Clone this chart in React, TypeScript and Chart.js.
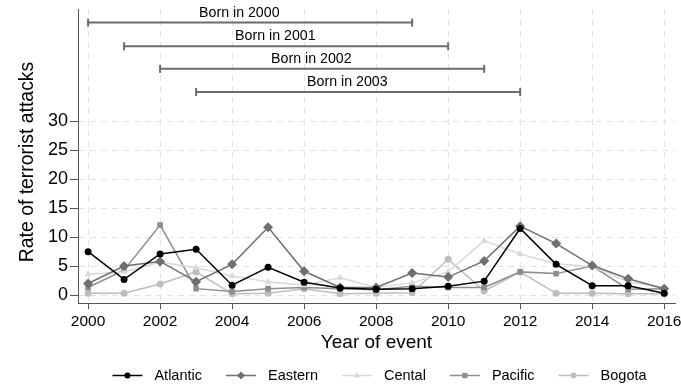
import React, { useEffect, useRef } from "react";
import { Chart, registerables } from "chart.js";

Chart.register(...registerables);

// ---- data ----
const years = [2000, 2001, 2002, 2003, 2004, 2005, 2006, 2007, 2008, 2009, 2010, 2011, 2012, 2013, 2014, 2015, 2016];
const atlantic = [7.5, 2.7, 7.1, 7.9, 1.7, 4.8, 2.2, 1.2, 1.0, 1.1, 1.5, 2.4, 11.5, 5.3, 1.6, 1.6, 0.3];
const eastern = [2.0, 5.0, 5.8, 2.3, 5.3, 11.7, 4.1, 1.3, 1.3, 3.8, 3.1, 5.9, 11.9, 8.9, 5.1, 2.8, 1.1];
const cental = [3.6, 4.0, 5.7, 4.7, 3.3, 2.3, 1.7, 3.0, 1.3, 2.1, 4.0, 9.4, 7.1, 5.4, 4.9, 2.3, 1.3];
const pacific = [1.3, 4.3, 12.1, 1.1, 0.6, 1.1, 1.3, 1.1, 0.9, 1.5, 1.3, 1.3, 4.0, 3.7, 5.0, 1.0, 1.1];
const bogota = [0.3, 0.3, 1.9, 4.0, 0.2, 0.3, 1.1, 0.2, 0.3, 0.4, 6.2, 0.7, 4.0, 0.3, 0.3, 0.2, 0.2];

const cohortLabels = ["Born in 2000", "Born in 2001", "Born in 2002", "Born in 2003"];
const cohortStart = [2000, 2001, 2002, 2003];
const cohortEnd = [2009, 2010, 2011, 2012];
const cohortLevel = [47.1, 43, 39.1, 35.1];

const xTicks = [2000, 2002, 2004, 2006, 2008, 2010, 2012, 2014, 2016];
const yTicks = [0, 5, 10, 15, 20, 25, 30];

const xTitle = "Year of event";
const yTitle = "Rate of terrorist attacks";

const FONT = "'Liberation Sans', Arial, Helvetica, sans-serif";

type SeriesDef = { label: string; values: number[]; color: string; style: string; radius: number; legendRadius: number };

const seriesDefs: SeriesDef[] = [
  { label: "Atlantic", values: atlantic, color: "#000000", style: "circle", radius: 3.5, legendRadius: 3 },
  { label: "Eastern", values: eastern, color: "#6f6f6f", style: "rectRot", radius: 5, legendRadius: 4 },
  { label: "Cental", values: cental, color: "#d9d9d9", style: "triangle", radius: 4, legendRadius: 3.5 },
  { label: "Pacific", values: pacific, color: "#8e8e8e", style: "rect", radius: 4, legendRadius: 3.5 },
  { label: "Bogota", values: bogota, color: "#bdbdbd", style: "circle", radius: 3.5, legendRadius: 3 },
];

function drawMarker(ctx: CanvasRenderingContext2D, style: string, x: number, y: number, r: number, color: string) {
  ctx.save();
  ctx.fillStyle = color;
  ctx.beginPath();
  if (style === "circle") {
    ctx.arc(x, y, r, 0, Math.PI * 2);
  } else if (style === "rectRot") {
    ctx.moveTo(x, y - r);
    ctx.lineTo(x + r, y);
    ctx.lineTo(x, y + r);
    ctx.lineTo(x - r, y);
    ctx.closePath();
  } else if (style === "triangle") {
    ctx.moveTo(x, y - r);
    ctx.lineTo(x + r * 0.95, y + r * 0.6);
    ctx.lineTo(x - r * 0.95, y + r * 0.6);
    ctx.closePath();
  } else {
    const h = r * 0.75;
    ctx.rect(x - h, y - h, 2 * h, 2 * h);
  }
  ctx.fill();
  ctx.restore();
}

export default function App() {
  const ref = useRef<HTMLCanvasElement>(null);

  useEffect(() => {
    document.body.style.margin = "0";
    const canvas = ref.current;
    if (!canvas) return;

    const intervalSets = cohortLabels.map((lab, i) => ({
      type: "line" as const,
      label: lab,
      data: [
        { x: cohortStart[i], y: cohortLevel[i] },
        { x: cohortEnd[i], y: cohortLevel[i] },
      ],
      borderColor: "#6b6b6b",
      borderWidth: 2,
      pointStyle: "line",
      pointRotation: 90,
      pointRadius: 4,
      pointBorderWidth: 2,
      pointBorderColor: "#6b6b6b",
      backgroundColor: "#6b6b6b",
      fill: false,
    }));

    const seriesSets = seriesDefs.map((s) => ({
      type: "line" as const,
      label: s.label,
      data: s.values.map((v, i) => ({ x: years[i], y: v })),
      borderColor: s.color,
      backgroundColor: s.color,
      pointBackgroundColor: s.color,
      pointBorderColor: s.color,
      borderWidth: 1.5,
      pointStyle: s.style,
      pointRadius: s.radius,
      pointBorderWidth: 0,
      tension: 0,
      fill: false,
    }));

    const overlayPlugin = {
      id: "overlay",
      afterDatasetsDraw(chart: any) {
        const ctx: CanvasRenderingContext2D = chart.ctx;
        const xs = chart.scales.x;
        const ys = chart.scales.y;
        ctx.save();
        ctx.fillStyle = "#000";
        ctx.font = `14.2px ${FONT}`;
        ctx.textAlign = "center";
        ctx.textBaseline = "middle";
        cohortLabels.forEach((lab, i) => {
          const mid = (cohortStart[i] + cohortEnd[i]) / 2 - 0.3;
          const px = xs.getPixelForValue(mid);
          const py = ys.getPixelForValue(cohortLevel[i]) - 10;
          ctx.fillText(lab, px, py);
        });
        ctx.restore();
      },
      afterDraw(chart: any) {
        const ctx: CanvasRenderingContext2D = chart.ctx;
        const area = chart.chartArea;
        ctx.save();
        // y axis title
        ctx.fillStyle = "#000";
        ctx.font = `19.4px ${FONT}`;
        ctx.textAlign = "center";
        ctx.textBaseline = "middle";
        ctx.translate(28, (area.top + area.bottom) / 2 + 6);
        ctx.rotate(-Math.PI / 2);
        ctx.fillText(yTitle, 0, 0);
        ctx.restore();

        ctx.save();
        ctx.font = `14.5px ${FONT}`;
        ctx.textBaseline = "middle";
        ctx.textAlign = "left";
        const lineW = 30;
        const textGap = 12;
        const itemGap = 24;
        const widths = seriesDefs.map((s) => ctx.measureText(s.label).width);
        const total =
          widths.reduce((a, w) => a + lineW + textGap + w, 0) + itemGap * (seriesDefs.length - 1);
        let x = (area.left + area.right) / 2 + 3 - total / 2;
        const y = 375.5;
        seriesDefs.forEach((s, i) => {
          ctx.strokeStyle = s.color;
          ctx.lineWidth = 1.5;
          ctx.beginPath();
          ctx.moveTo(x, y);
          ctx.lineTo(x + lineW, y);
          ctx.stroke();
          drawMarker(ctx, s.style, x + lineW / 2, y, s.legendRadius, s.color);
          ctx.fillStyle = "#000";
          ctx.fillText(s.label, x + lineW + textGap, y + 0.5);
          x += lineW + textGap + widths[i] + itemGap;
        });
        ctx.restore();
      },
    };

    const chart = new Chart(canvas, {
      type: "line",
      data: { datasets: [...seriesSets, ...intervalSets] as any },
      options: {
        responsive: true,
        maintainAspectRatio: false,
        animation: false,
        events: [],
        layout: { padding: { top: 9, right: 5, left: 0, bottom: 0 } },
        plugins: {
          legend: { display: false },
          tooltip: { enabled: false },
          title: { display: false },
        },
        scales: {
          x: {
            type: "linear",
            min: 1999.72,
            max: 2016.3,
            afterBuildTicks: (scale: any) => {
              scale.ticks = xTicks.map((v) => ({ value: v }));
            },
            afterFit: (scale: any) => {
              scale.height = 86;
              scale.paddingLeft = 0;
              scale.paddingRight = 0;
            },
            grid: {
              color: "#e3e3e3",
              lineWidth: 1,
              tickColor: "#555",
              tickLength: 6,
              tickWidth: 1,
            },
            border: { color: "#555", width: 1, dash: [6, 5] },
            ticks: {
              color: "#000",
              font: { family: FONT, size: 15.5 },
              padding: 3,
              maxRotation: 0,
              autoSkip: false,
              callback: (v: any) => String(v),
            },
            title: {
              display: true,
              text: xTitle,
              color: "#000",
              font: { family: FONT, size: 19 },
              padding: { top: 0, bottom: 35 },
            },
          },
          y: {
            type: "linear",
            min: -1.38,
            max: 49.45,
            afterBuildTicks: (scale: any) => {
              scale.ticks = yTicks.map((v) => ({ value: v }));
            },
            afterFit: (scale: any) => {
              scale.width = 78;
              scale.paddingTop = 0;
              scale.paddingBottom = 0;
            },
            grid: {
              color: "#e3e3e3",
              lineWidth: 1,
              tickColor: "#555",
              tickLength: 8,
              tickWidth: 1,
            },
            border: { color: "#555", width: 1, dash: [6, 5] },
            ticks: {
              color: "#000",
              font: { family: FONT, size: 18 },
              padding: 2,
              autoSkip: false,
              callback: (v: any) => String(v),
            },
            title: { display: false },
          },
        },
      } as any,
      plugins: [overlayPlugin],
    });

    return () => chart.destroy();
  }, []);

  return (
    <div style={{ width: 681, height: 389, position: "relative" }}>
      <canvas ref={ref} />
    </div>
  );
}
